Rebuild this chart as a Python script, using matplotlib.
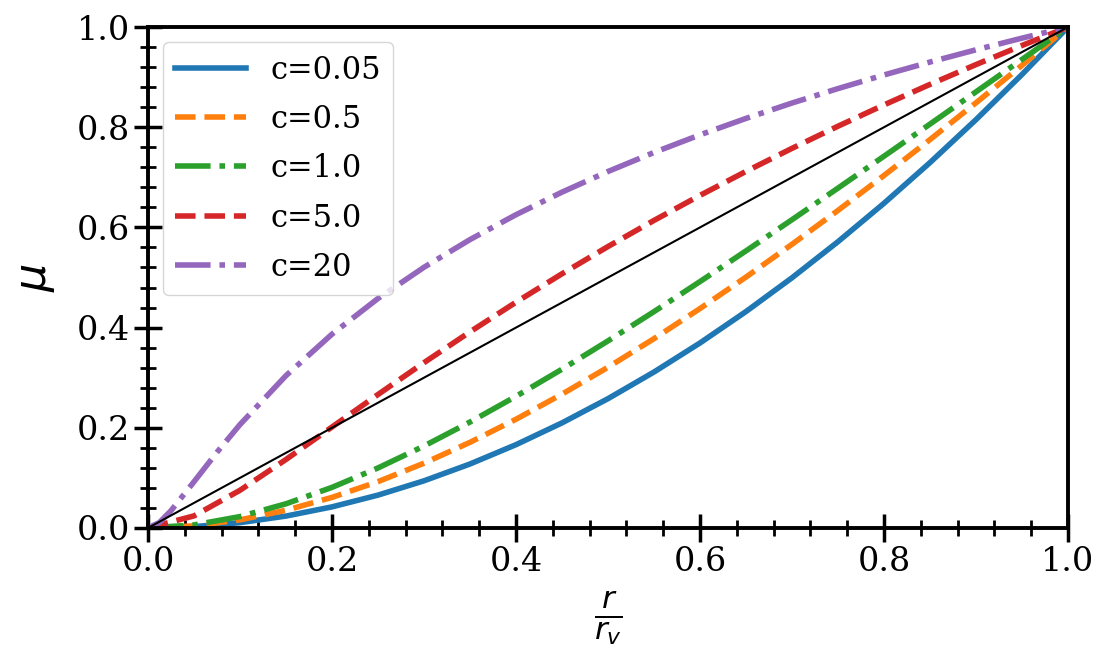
import numpy as np
import matplotlib
matplotlib.use("Agg")
import matplotlib.pyplot as plt
from matplotlib.ticker import AutoMinorLocator

plt.rcParams['font.family'] = 'serif'

# enclosed mass fraction mu vs r/r_v
x = [0.0, 0.05, 0.1, 0.15, 0.2, 0.25, 0.3, 0.35, 0.4, 0.45, 0.5,
     0.55, 0.6, 0.65, 0.7, 0.75, 0.8, 0.85, 0.9, 0.95, 1.0]
mu_c005 = [0.0, 0.00266, 0.01060, 0.02377, 0.04212, 0.06560, 0.09415, 0.12773,
           0.16629, 0.20978, 0.25814, 0.31133, 0.36932, 0.43204, 0.49945,
           0.57151, 0.64817, 0.72939, 0.81513, 0.90533, 1.0]
mu_c05 = [0.0, 0.00419, 0.01624, 0.03540, 0.06102, 0.09250, 0.12931, 0.17097,
          0.21703, 0.26712, 0.32086, 0.37792, 0.43802, 0.50087, 0.56627,
          0.63393, 0.70368, 0.77533, 0.84871, 0.92364, 1.0]
mu_c1 = [0.0, 0.00606, 0.02279, 0.04829, 0.08105, 0.11983, 0.16358, 0.21148,
         0.26279, 0.31696, 0.37346, 0.43188, 0.49187, 0.55313, 0.61540,
         0.67847, 0.74214, 0.80626, 0.87068, 0.93530, 1.0]
mu_c5 = [0.0, 0.02415, 0.07526, 0.13673, 0.20153, 0.26645, 0.33001, 0.39151,
         0.45068, 0.50744, 0.56183, 0.61395, 0.66390, 0.71181, 0.75781,
         0.80202, 0.84455, 0.88552, 0.92503, 0.96316, 1.0]
x20 = [0.0, 0.0125, 0.025, 0.05, 0.075, 0.1, 0.15, 0.2, 0.25, 0.3, 0.35, 0.4,
       0.45, 0.5, 0.55, 0.6, 0.65, 0.7, 0.75, 0.8, 0.85, 0.9, 0.95, 1.0]
mu_c20 = [0.0, 0.01106, 0.03448, 0.09232, 0.15118, 0.20646, 0.30413, 0.38689,
          0.45811, 0.52041, 0.57570, 0.62535, 0.67040, 0.71162, 0.74958,
          0.78478, 0.81758, 0.84828, 0.87714, 0.90435, 0.93011, 0.95456,
          0.97782, 1.0]
diag = [0.0, 1.0]

fig = plt.figure(figsize=(11.11, 6.69), dpi=100)
ax = fig.add_axes([0.1332, 0.2108, 0.8281, 0.7488])

ax.plot(x, mu_c005, '-', color='C0', lw=4, label='c=0.05')
ax.plot(x, mu_c05, '--', color='C1', lw=4, label='c=0.5')
ax.plot(x, mu_c1, '-.', color='C2', lw=4, label='c=1.0')
ax.plot(x, mu_c5, '--', color='C3', lw=4, label='c=5.0')
ax.plot(x20, mu_c20, '-.', color='C4', lw=4, label='c=20')
ax.plot(diag, diag, '-', color='k', lw=1.5)

ax.set_xlim(0, 1)
ax.set_ylim(0, 1)
ax.set_xlabel(r'$\frac{r}{r_v}$', fontsize=32, labelpad=8)
ax.set_ylabel(r'$\mu$', fontsize=32, labelpad=14)

ax.xaxis.set_minor_locator(AutoMinorLocator(5))
ax.yaxis.set_minor_locator(AutoMinorLocator(5))
ax.tick_params(which='major', direction='inout', length=20, width=2.5, labelsize=24, pad=3)
ax.tick_params(which='minor', direction='inout', length=11, width=2)
for s in ax.spines.values():
    s.set_linewidth(2.8)

ax.legend(loc='upper left', fontsize=22, handlelength=2.3, labelspacing=0.6)
fig.savefig('out.png')
